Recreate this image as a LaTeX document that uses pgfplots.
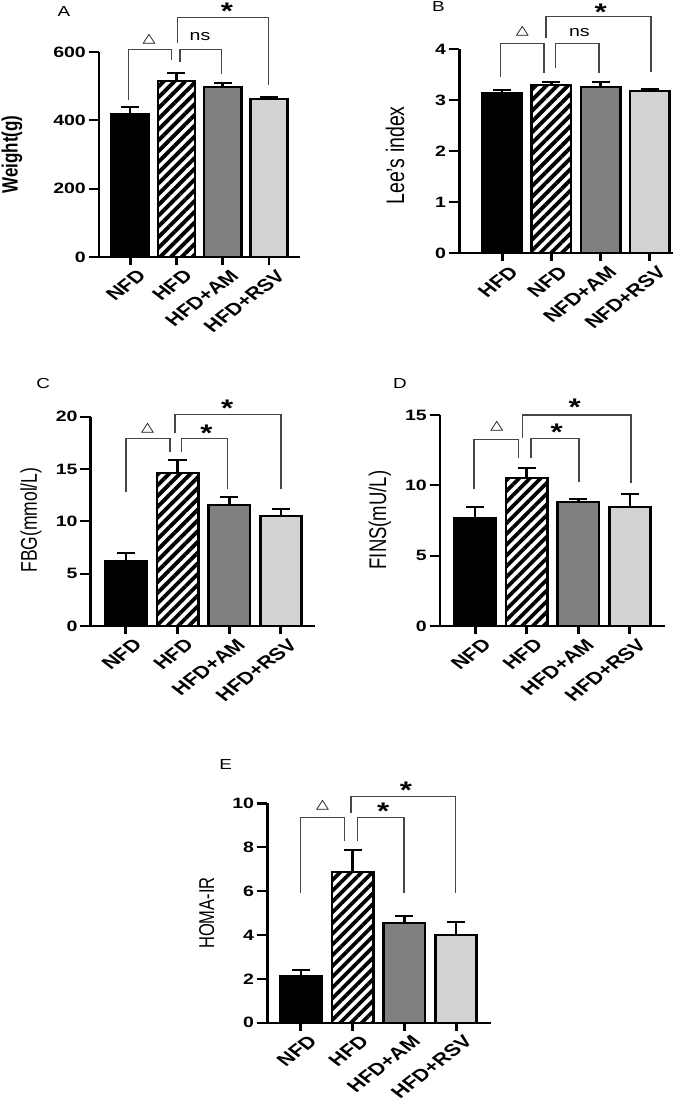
\documentclass[border=0pt]{standalone}
\usepackage{fontspec}
\setmainfont{Liberation Sans}
\newfontfamily\symfont{DejaVu Sans}
\usepackage{pgfplots}
\pgfplotsset{compat=1.18}
\usetikzlibrary{patterns.meta}

\definecolor{midgray}{RGB}{128,128,128}
\definecolor{lightgray}{RGB}{211,211,211}
\definecolor{brk}{RGB}{70,70,70}

\pgfplotsset{
  panel/.style={
    scale only axis, anchor=south west, clip=false,
    axis lines=left,
    axis line style={-, line width=2.2pt, black},
    ymin=0, xtick={0,1,2,3},
    tick align=outside, major tick length=8pt,
    every tick/.style={line width=2.2pt, black},
    minor tick num=0,
    tick label style={font=\fontsize{15}{15}\selectfont\bfseries},
    xticklabel style={rotate=45, anchor=north east, inner sep=1pt,
      font=\fontsize{17}{17}\selectfont\bfseries, yshift=-5pt, xshift=2pt},
    yticklabel style={inner sep=2pt},
    /pgf/number format/assume math mode=true,
    every axis y label/.style={rotate=90, anchor=center},
  },
  grp/.style={ybar, bar width=0.8, bar shift=0pt, draw=black, line width=2pt,
    error bars/y dir=plus, error bars/y explicit,
    error bars/error bar style={line width=2pt, black},
    error bars/error mark options={rotate=90, mark size=7pt, line width=2pt, black}},
  hatch/.style={pattern={Lines[angle=45,distance=7.6pt,line width=3.8pt]}},
}
\tikzset{
  brk/.style={draw=brk, line width=1.1pt},
  star/.style={font=\fontsize{24}{24}\selectfont\bfseries, inner sep=0pt, yshift=-5pt},
  tri/.style={font=\symfont\fontsize{13}{13}\selectfont, inner sep=0pt},
  ns/.style={font=\fontsize{15}{15}\selectfont, inner sep=0pt},
  letter/.style={font=\fontsize{14.5}{14.5}\selectfont, inner sep=0pt},
}

\begin{document}
\begin{tikzpicture}
\path[use as bounding box] (0,0) rectangle (685pt,-1105pt);
\begin{scope}[transform canvas={xscale=1.3}]

% A
\begin{axis}[panel, at={(76.2pt,-257pt)}, width=154.6pt, height=205pt,
  xmin=-0.67, xmax=3.67, ymax=600, ytick={0,200,400,600},
  xticklabels={NFD,HFD,HFD+AM,HFD+RSV},
  ylabel={\fontsize{17}{17}\selectfont\bfseries Weight(g)},
  ylabel style={at={(axis description cs:-0.433,0.5)}}]
\addplot[grp, fill=black] coordinates {(0,419) +- (0,21)};
\addplot[grp, hatch] coordinates {(1,515) +- (0,24)};
\addplot[grp, fill=midgray] coordinates {(2,497) +- (0,13)};
\addplot[grp, fill=lightgray] coordinates {(3,462) +- (0,7)};
\draw[brk] (axis cs:-0.04,459.5) |- (axis cs:0.90,608) -- (axis cs:0.90,576.6);
\draw[brk] (axis cs:1.08,570) |- (axis cs:1.98,608) -- (axis cs:1.98,535.6);
\draw[brk] (axis cs:1.03,625.5) |- (axis cs:2.99,701.6) -- (axis cs:2.99,503.4);
\node[tri] at (axis cs:0.41,638.7) {△};
\node[ns] at (axis cs:1.51,644.9) {ns};
\node[star] at (axis cs:2.09,732.9) {*};
\end{axis}

% B
\begin{axis}[panel, at={(353.3pt,-253.3pt)}, width=164.4pt, height=204pt,
  xmin=-0.87, xmax=3.47, ymax=4, ytick={0,1,2,3,4},
  xticklabels={HFD,NFD,NFD+AM,NFD+RSV},
  ylabel={\fontsize{19.5}{19.5}\selectfont Lee's index},
  ylabel style={at={(axis description cs:-0.301,0.48)}}]
\addplot[grp, fill=black] coordinates {(0,3.15) +- (0,0.05)};
\addplot[grp, hatch] coordinates {(1,3.30) +- (0,0.06)};
\addplot[grp, fill=midgray] coordinates {(2,3.27) +- (0,0.08)};
\addplot[grp, fill=lightgray] coordinates {(3,3.19) +- (0,0.04)};
\draw[brk] (axis cs:-0.03,3.45) |- (axis cs:0.85,4.12) -- (axis cs:0.85,3.54);
\draw[brk] (axis cs:1.08,3.63) |- (axis cs:1.97,4.12) -- (axis cs:1.97,3.54);
\draw[brk] (axis cs:0.89,4.23) |- (axis cs:3.02,4.65) -- (axis cs:3.02,3.56);
\node[tri] at (axis cs:0.41,4.35) {△};
\node[ns] at (axis cs:1.57,4.32) {ns};
\node[star] at (axis cs:2.0,4.82) {*};
\end{axis}

% C
\begin{axis}[panel, at={(69.8pt,-626pt)}, width=172.5pt, height=209.3pt,
  xmin=-0.68, xmax=3.66, ymax=20, ytick={0,5,10,15,20},
  xticklabels={NFD,HFD,HFD+AM,HFD+RSV},
  ylabel={\fontsize{17.5}{17.5}\selectfont FBG(mmol/L)},
  ylabel style={at={(axis description cs:-0.267,0.506)}}]
\addplot[grp, fill=black] coordinates {(0,6.24) +- (0,0.76)};
\addplot[grp, hatch] coordinates {(1,14.64) +- (0,1.22)};
\addplot[grp, fill=midgray] coordinates {(2,11.59) +- (0,0.73)};
\addplot[grp, fill=lightgray] coordinates {(3,10.54) +- (0,0.64)};
\draw[brk] (axis cs:0.006,12.77) |- (axis cs:0.856,17.93) -- (axis cs:0.856,16.62);
\draw[brk] (axis cs:1.08,16.62) |- (axis cs:1.97,17.93) -- (axis cs:1.97,13.12);
\draw[brk] (axis cs:0.95,18.4) |- (axis cs:3.0,20.21) -- (axis cs:3.0,13.12);
\node[tri] at (axis cs:0.42,18.88) {△};
\node[star] at (axis cs:1.56,18.88) {*};
\node[star] at (axis cs:1.96,21.28) {*};
\end{axis}

% D
\begin{axis}[panel, at={(338.5pt,-626pt)}, width=173pt, height=211pt,
  xmin=-0.68, xmax=3.68, ymax=15, ytick={0,5,10,15},
  xticklabels={NFD,HFD,HFD+AM,HFD+RSV},
  ylabel={\fontsize{18.5}{18.5}\selectfont FINS(mU/L)},
  ylabel style={at={(axis description cs:-0.267,0.502)}}]
\addplot[grp, fill=black] coordinates {(0,7.70) +- (0,0.78)};
\addplot[grp, hatch] coordinates {(1,10.50) +- (0,0.75)};
\addplot[grp, fill=midgray] coordinates {(2,8.81) +- (0,0.24)};
\addplot[grp, fill=lightgray] coordinates {(3,8.48) +- (0,0.90)};
\draw[brk] (axis cs:-0.02,9.74) |- (axis cs:0.84,13.27) -- (axis cs:0.84,11.96);
\draw[brk] (axis cs:1.08,11.96) |- (axis cs:2.01,13.34) -- (axis cs:2.01,10.23);
\draw[brk] (axis cs:0.92,13.38) |- (axis cs:3.02,15.0) -- (axis cs:3.02,10.14);
\node[tri] at (axis cs:0.42,14.18) {△};
\node[star] at (axis cs:1.58,14.13) {*};
\node[star] at (axis cs:1.93,15.94) {*};
\end{axis}

% E
\begin{axis}[panel, at={(205.6pt,-1022.7pt)}, width=171.9pt, height=219.3pt,
  xmin=-0.65, xmax=3.67, ymax=10, ytick={0,2,4,6,8,10},
  xticklabels={NFD,HFD,HFD+AM,HFD+RSV},
  ylabel={\fontsize{16.5}{16.5}\selectfont HOMA-IR},
  ylabel style={at={(axis description cs:-0.271,0.5)}}]
\addplot[grp, fill=black] coordinates {(0,2.13) +- (0,0.27)};
\addplot[grp, hatch] coordinates {(1,6.86) +- (0,1.02)};
\addplot[grp, fill=midgray] coordinates {(2,4.56) +- (0,0.31)};
\addplot[grp, fill=lightgray] coordinates {(3,4.0) +- (0,0.61)};
\draw[brk] (axis cs:-0.006,5.90) |- (axis cs:0.84,9.35) -- (axis cs:0.84,8.30);
\draw[brk] (axis cs:1.09,8.30) |- (axis cs:1.99,9.35) -- (axis cs:1.99,5.90);
\draw[brk] (axis cs:0.97,9.57) |- (axis cs:2.99,10.33) -- (axis cs:2.99,5.90);
\node[tri] at (axis cs:0.42,9.92) {△};
\node[star] at (axis cs:1.59,9.85) {*};
\node[star] at (axis cs:2.03,10.84) {*};
\end{axis}

\node[letter] at (49.2pt,-11.3pt) {A};
\node[letter] at (337.2pt,-6.7pt) {B};
\node[letter] at (33.3pt,-383.3pt) {C};
\node[letter] at (307.7pt,-383.3pt) {D};
\node[letter] at (173.5pt,-764.3pt) {E};
\end{scope}
\end{tikzpicture}
\end{document}
